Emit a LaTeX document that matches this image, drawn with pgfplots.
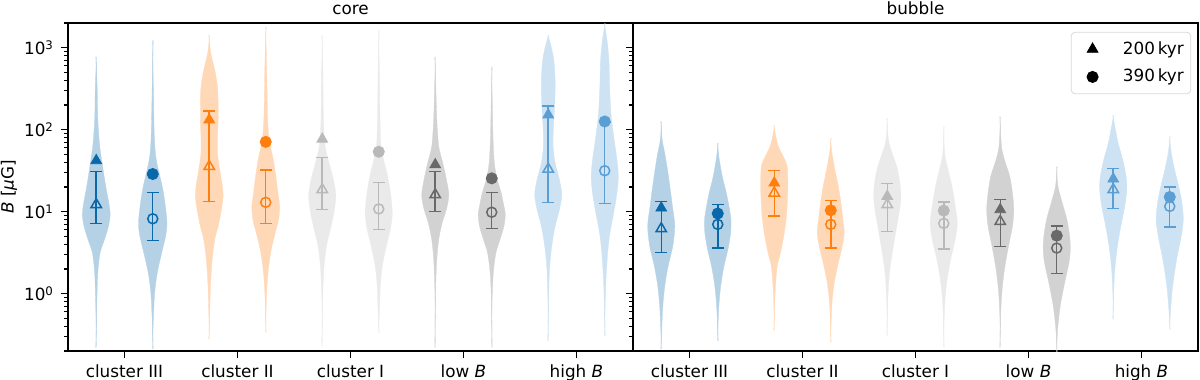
\documentclass[border=0pt]{standalone}
\usepackage{fontspec}
\setmainfont{DejaVu Sans}
\usepackage{pgfplots}
\usepackage{pgfplotstable}
\pgfplotsset{compat=1.18}

\definecolor{cA}{RGB}{8,104,170}
\definecolor{cB}{RGB}{255,127,14}
\definecolor{cC}{RGB}{185,185,185}
\definecolor{cD}{RGB}{105,105,105}
\definecolor{cE}{RGB}{90,158,212}
\definecolor{fA}{RGB}{181,209,230}
\definecolor{fB}{RGB}{255,217,183}
\definecolor{fC}{RGB}{234,234,234}
\definecolor{fD}{RGB}{210,210,210}
\definecolor{fE}{RGB}{205,226,242}

\pgfplotstableread{
B w
0.2203 0
0.7762 0.009
1.799 0.018
3.148 0.038
4.581 0.077
6.653 0.112
9.226 0.127
12.79 0.115
20.37 0.088
32.51 0.065
62.52 0.035
131.8 0.018
335.7 0.012
778.0 0
}\vA
\pgfplotstableread{
B w
0.2099 0
0.4864 0.009
1.028 0.021
1.799 0.044
3.148 0.083
5.023 0.118
7.295 0.130
12.79 0.112
20.37 0.088
43.05 0.035
82.79 0.018
335.7 0.009
1242 0
}\vB
\pgfplotstableread{
B w
0.2780 0
0.4864 0.006
1.239 0.015
2.612 0.030
4.581 0.053
6.653 0.083
10.62 0.112
15.42 0.127
20.37 0.121
32.51 0.097
51.88 0.077
82.79 0.077
131.8 0.083
210.4 0.083
335.7 0.077
535.8 0.053
853.1 0.018
1429 0
}\vC
\pgfplotstableread{
B w
0.3350 0
1.028 0.012
1.977 0.027
3.459 0.053
5.521 0.088
8.017 0.118
11.64 0.127
16.90 0.112
26.98 0.094
43.05 0.071
75.34 0.035
131.8 0.021
335.7 0.015
853.1 0.009
1803 0
}\vD
\pgfplotstableread{
B w
0.2307 0
0.7762 0.006
1.977 0.018
3.793 0.041
6.653 0.083
10.62 0.112
16.14 0.124
24.60 0.103
39.17 0.065
62.52 0.030
131.8 0.015
535.8 0.009
1429 0
}\vE
\pgfplotstableread{
B w
0.3350 0
0.5861 0.009
1.239 0.018
2.168 0.035
3.793 0.071
6.053 0.106
9.226 0.124
15.42 0.112
26.98 0.083
43.05 0.047
62.52 0.024
131.8 0.015
535.8 0.009
1641 0
}\vF
\pgfplotstableread{
B w
0.2203 0
1.028 0.006
2.612 0.018
4.581 0.035
7.295 0.065
11.12 0.106
16.14 0.124
24.60 0.103
39.17 0.071
62.52 0.035
131.8 0.018
335.7 0.009
778.0 0
}\vG
\pgfplotstableread{
B w
0.2203 0
0.7762 0.006
1.799 0.018
3.148 0.041
4.581 0.077
6.653 0.112
9.226 0.124
11.64 0.112
16.90 0.088
24.60 0.053
39.17 0.027
82.79 0.015
210.4 0.009
587.5 0
}\vH
\pgfplotstableread{
B w
0.2655 0
0.7762 0.006
1.977 0.015
3.793 0.035
6.653 0.065
10.62 0.103
16.14 0.124
24.60 0.103
39.17 0.065
62.52 0.047
109.4 0.050
210.4 0.062
404.6 0.065
707.9 0.053
1030 0.030
1429 0
}\vI
\pgfplotstableread{
B w
0.3055 0
0.6442 0.006
1.493 0.015
3.148 0.030
5.521 0.050
9.661 0.083
16.90 0.112
26.98 0.124
43.05 0.112
82.79 0.083
159.2 0.059
335.7 0.047
707.9 0.041
1242 0.024
1977 0
}\vJ
\pgfplotstableread{
B w
0.2099 0
0.4036 0.009
0.7079 0.018
1.239 0.035
2.168 0.065
3.793 0.106
6.653 0.124
11.64 0.103
20.37 0.080
32.51 0.059
51.88 0.035
75.34 0.012
125.9 0
}\wA
\pgfplotstableread{
B w
0.2655 0
0.6442 0.012
1.239 0.030
2.168 0.059
3.459 0.094
5.521 0.118
8.017 0.121
11.64 0.103
16.90 0.080
26.98 0.044
43.05 0.018
68.71 0
}\wB
\pgfplotstableread{
B w
0.3508 0
0.6442 0.006
1.239 0.015
2.168 0.030
3.148 0.059
5.023 0.088
8.017 0.109
11.64 0.118
20.37 0.124
35.73 0.118
47.32 0.083
62.52 0.041
82.79 0.018
114.8 0
}\wC
\pgfplotstableread{
B w
0.2535 0
0.4036 0.006
0.7762 0.015
1.361 0.035
2.382 0.071
3.793 0.106
5.521 0.124
8.017 0.112
12.79 0.094
20.37 0.071
32.51 0.041
51.88 0.015
78.89 0
}\wD
\pgfplotstableread{
B w
0.3055 0
0.8531 0.009
1.799 0.024
3.459 0.053
6.653 0.088
11.64 0.118
16.90 0.124
24.60 0.112
35.73 0.088
51.88 0.047
75.34 0.015
138.4 0
}\wE
\pgfplotstableread{
B w
0.2203 0
0.7079 0.012
1.361 0.030
2.612 0.065
4.581 0.106
7.295 0.124
11.64 0.106
20.37 0.077
35.73 0.035
51.88 0.012
109.4 0
}\wF
\pgfplotstableread{
B w
0.2203 0
0.4864 0.006
1.028 0.018
1.977 0.041
3.793 0.077
6.653 0.112
10.62 0.124
16.90 0.112
26.98 0.088
43.05 0.041
62.52 0.015
144.9 0
}\wG
\pgfplotstableread{
B w
0.1914 0
0.3681 0.012
0.7079 0.035
1.361 0.074
2.382 0.112
3.459 0.124
5.023 0.118
8.017 0.094
12.79 0.053
20.37 0.015
35.73 0
}\wH
\pgfplotstableread{
B w
0.4864 0
0.9354 0.006
1.977 0.018
3.793 0.041
6.653 0.071
11.64 0.106
18.58 0.124
26.98 0.118
43.05 0.088
68.71 0.047
99.77 0.024
151.7 0
}\wI
\pgfplotstableread{
B w
0.3681 0
0.6442 0.012
1.239 0.030
2.612 0.065
5.023 0.106
8.017 0.124
12.79 0.112
20.37 0.083
32.51 0.047
51.88 0.018
82.79 0
}\wJ

% #1 centre, #2 fill colour, #3 table
\newcommand{\violin}[3]{%
  \addplot[fill=#2, draw=#2, line width=0.15pt, smooth, tension=0.5, forget plot] table[x expr=#1-0.004+\thisrow{w}, y=B]{#3};
  \addplot[fill=#2, draw=#2, line width=0.15pt, smooth, tension=0.5, forget plot] table[x expr=#1+0.004-\thisrow{w}, y=B]{#3};
}
% x, colour, filled, open, low, high
\newcommand{\tri}[6]{%
  \addplot[#2, line width=0.75pt, mark=-, mark size=3pt, forget plot] coordinates {(#1,#5) (#1,#6)};
  \addplot[#2, only marks, mark=triangle, mark size=3.0pt, line width=0.75pt, forget plot] coordinates {(#1,#4)};
  \addplot[#2, only marks, mark=triangle*, mark size=3.1pt, forget plot] coordinates {(#1,#3)};
}
\newcommand{\cir}[6]{%
  \addplot[#2, line width=0.75pt, mark=-, mark size=3pt, forget plot] coordinates {(#1,#5) (#1,#6)};
  \addplot[#2, only marks, mark=o, mark size=2.5pt, line width=0.75pt, forget plot] coordinates {(#1,#4)};
  \addplot[#2, only marks, mark=*, mark size=2.8pt, forget plot] coordinates {(#1,#3)};
}
\newcommand{\fs}{\fontsize{8.4}{10}\selectfont}

\begin{document}
\begin{tikzpicture}
\begin{semilogyaxis}[at={(0,0)}, anchor=south west,
  scale only axis, width=282.5pt, height=164pt,
  ymin=0.2, ymax=2000, xmin=-0.5, xmax=4.5,
  xtick={0,1,2,3,4},
  xticklabels={cluster III,cluster II,cluster I,low \textit{B},high \textit{B}},
  ytick={1,10,100,1000},
  minor ytick={0.2,0.3,0.4,0.5,0.6,0.7,0.8,0.9,2,3,4,5,6,7,8,9,20,30,40,50,60,70,80,90,200,300,400,500,600,700,800,900,2000},
  tick align=outside, xtick pos=left, ytick pos=left,
  major tick length=3.5pt, minor tick length=2pt,
  axis line style={line width=0.6pt},
  tick style={line width=0.6pt, black},
  tick label style={font=\fs},
  yticklabels={10\textsuperscript{0},10\textsuperscript{1},10\textsuperscript{2},10\textsuperscript{3}},
  ylabel={\textit{B} [\textit{μ}G]},
  ylabel style={font=\fs, at={(axis description cs:0,0.5)}, anchor=center, yshift=29.5pt}]
\coordinate (T1) at (rel axis cs:0.5,1);
\violin{-0.25}{fA}{\vA}
\violin{0.25}{fA}{\vB}
\violin{0.75}{fB}{\vC}
\violin{1.25}{fB}{\vD}
\violin{1.75}{fC}{\vE}
\violin{2.25}{fC}{\vF}
\violin{2.75}{fD}{\vG}
\violin{3.25}{fD}{\vH}
\violin{3.75}{fE}{\vI}
\violin{4.25}{fE}{\vJ}
\tri{-0.25}{cA}{42}{12.2}{7.2}{31}
\cir{0.25}{cA}{28.8}{8.2}{4.45}{17.2}
\tri{0.75}{cB}{132}{35.7}{13.3}{170}
\cir{1.25}{cB}{71}{13.0}{7.2}{32.2}
\tri{1.75}{cC}{76.8}{18.6}{10.6}{45.9}
\cir{2.25}{cC}{53.8}{10.8}{6.06}{22.6}
\tri{2.75}{cD}{37.4}{16.1}{10.0}{31}
\cir{3.25}{cD}{25.5}{9.85}{6.2}{17.2}
\tri{3.75}{cE}{152}{33.1}{13.0}{195}
\cir{4.25}{cE}{126}{31.6}{12.6}{123}
\end{semilogyaxis}
\begin{semilogyaxis}[at={(282.5pt,0)}, anchor=south west,
  scale only axis, width=282.5pt, height=164pt,
  ymin=0.2, ymax=2000, xmin=-0.5, xmax=4.5,
  xtick={0,1,2,3,4},
  xticklabels={cluster III,cluster II,cluster I,low \textit{B},high \textit{B}},
  ytick={1,10,100,1000},
  minor ytick={0.2,0.3,0.4,0.5,0.6,0.7,0.8,0.9,2,3,4,5,6,7,8,9,20,30,40,50,60,70,80,90,200,300,400,500,600,700,800,900,2000},
  tick align=outside, xtick pos=left, ytick pos=left,
  major tick length=3.5pt, minor tick length=2pt,
  axis line style={line width=0.6pt},
  tick style={line width=0.6pt, black},
  tick label style={font=\fs},
  yticklabels={},
  legend cell align=left,
  legend image code/.code={\path (-8pt,0pt) (14pt,0pt); \draw[#1] plot coordinates {(0pt,0pt)};},
  legend style={font=\fs, at={(0.988,0.973)}, anchor=north east,
    draw=black!15, rounded corners=2pt, inner xsep=2.5pt, inner ysep=3.5pt, row sep=4pt,
    nodes={inner sep=1pt}}]
\coordinate (T2) at (rel axis cs:0.5,1);
\violin{-0.25}{fA}{\wA}
\violin{0.25}{fA}{\wB}
\violin{0.75}{fB}{\wC}
\violin{1.25}{fB}{\wD}
\violin{1.75}{fC}{\wE}
\violin{2.25}{fC}{\wF}
\violin{2.75}{fD}{\wG}
\violin{3.25}{fD}{\wH}
\violin{3.75}{fE}{\wI}
\violin{4.25}{fE}{\wJ}
\tri{-0.25}{cA}{11.1}{6.2}{3.18}{13.4}
\cir{0.25}{cA}{9.5}{7.0}{3.59}{12.2}
\tri{0.75}{cB}{22.4}{16.9}{8.8}{31.6}
\cir{1.25}{cB}{10.4}{7.0}{3.6}{13.6}
\tri{1.75}{cC}{15.4}{12.2}{5.7}{22}
\cir{2.25}{cC}{10.3}{7.2}{3.5}{13.1}
\tri{2.75}{cD}{10.6}{7.6}{3.76}{14.0}
\cir{3.25}{cD}{5.1}{3.6}{1.77}{6.65}
\tri{3.75}{cE}{25.1}{18.6}{10.9}{33.4}
\cir{4.25}{cE}{15.1}{11.6}{6.5}{20}
\addlegendimage{black, mark=triangle*, mark size=3.1pt}
\addlegendentry{200\,kyr}
\addlegendimage{black, mark=*, mark size=2.8pt}
\addlegendentry{390\,kyr}
\end{semilogyaxis}
\node[font=\fs, anchor=base, yshift=4.5pt] at (T1) {core};
\node[font=\fs, anchor=base, yshift=4.5pt] at (T2) {bubble};
\pgfresetboundingbox
\path[use as bounding box] (-34pt,-14.5pt) rectangle (566pt,175.5pt);
\end{tikzpicture}
\end{document}
